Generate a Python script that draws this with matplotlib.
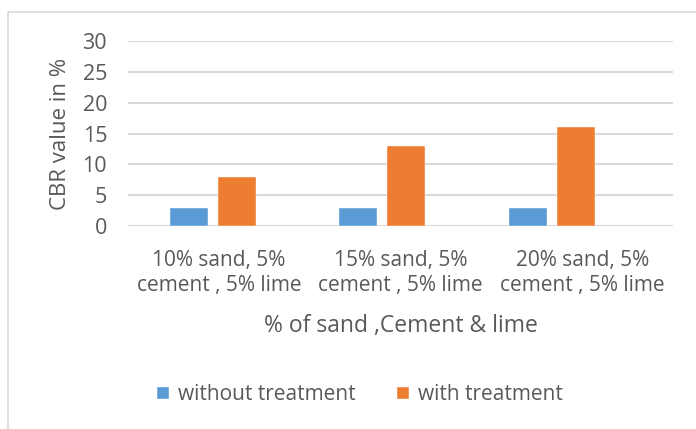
import numpy as np
import matplotlib
matplotlib.use("Agg")
import matplotlib.pyplot as plt
from matplotlib.patches import Rectangle

categories = ["10% sand, 5%\ncement , 5% lime",
              "15% sand, 5%\ncement , 5% lime",
              "20% sand, 5%\ncement , 5% lime"]
without_treatment = [3, 3, 3]
with_treatment = [8, 13, 16]
y_ticks = [0, 5, 10, 15, 20, 25, 30]

blue = "#5b9bd5"
orange = "#ed7d31"
grid_c = "#d9d9d9"
text_c = "#595959"

plt.rcParams["font.family"] = ["Open Sans", "DejaVu Sans"]

fig = plt.figure(figsize=(6.96, 4.29), dpi=100)
fig.patch.set_facecolor("white")
# chart frame
fig.add_artist(Rectangle((8 / 696, -0.1), 1.2, 1 - 12 / 429 + 0.1,
                         transform=fig.transFigure, fill=False,
                         edgecolor=grid_c, linewidth=1.2))

ax = fig.add_axes([128 / 696, 1 - 226 / 429, 545 / 696, 185 / 429])
idx = np.arange(len(categories))
group = idx * 0.932 - 0.032
w = 0.21
ax.bar(group - 0.132, without_treatment, width=w, color=blue,
       edgecolor="white", linewidth=0.3, label="without treatment", zorder=3)
ax.bar(group + 0.132, with_treatment, width=w, color=orange,
       edgecolor="white", linewidth=0.3, label="with treatment", zorder=3)

ax.set_xlim(-0.5, 2.5)
ax.set_ylim(0, 30)
ax.set_yticks(y_ticks)
ax.set_xticks(idx)
ax.set_xticklabels(categories, fontsize=15, color=text_c, linespacing=1.3)
ax.tick_params(axis="y", labelsize=15.5, labelcolor=text_c, length=0, pad=15)
ax.tick_params(axis="x", length=0, pad=17)
ax.grid(axis="y", color=grid_c, linewidth=1.5, zorder=0)
for s in ax.spines.values():
    s.set_visible(False)

fig.text(61 / 696, 1 - 134 / 429, "CBR value in %", rotation=90,
         ha="center", va="center", fontsize=16, color=text_c)
fig.text(401 / 696, 1 - 326 / 429, "% of sand ,Cement & lime",
         ha="center", va="center", fontsize=16.5, color=text_c)

leg = fig.legend(loc="center", bbox_to_anchor=(360 / 696, 1 - 395 / 429),
                 ncol=2, frameon=False, fontsize=15, handlelength=0.55,
                 handleheight=0.55, handletextpad=0.45, columnspacing=2.0,
                 labelcolor=text_c)

fig.savefig("out.png", dpi=100)
